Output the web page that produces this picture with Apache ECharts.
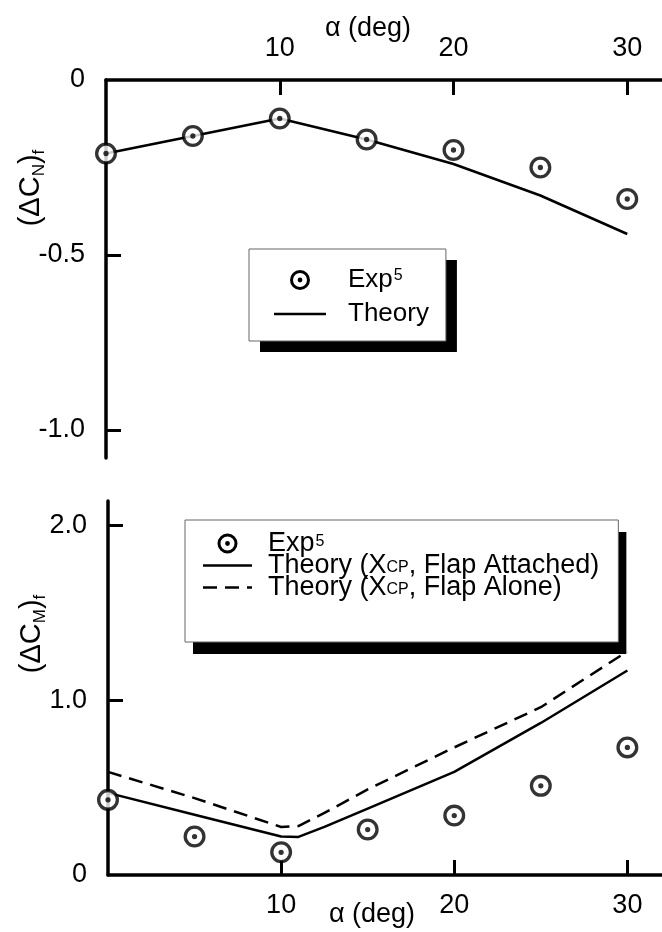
<!DOCTYPE html>
<html>
<head>
<meta charset="utf-8">
<script src="https://cdn.jsdelivr.net/npm/echarts@6/dist/echarts.min.js"></script>
<style>
html,body{margin:0;padding:0;background:#fff;}
#chart{width:662px;height:932px;}
</style>
</head>
<body>
<div id="chart"></div>
<script>
// ---- data ----
const alphaExp = [0, 5, 10, 15, 20, 25, 30];
const cnExp = [-0.21, -0.16, -0.11, -0.17, -0.20, -0.25, -0.34];
const alphaCnTheory = [0, 5, 10, 15, 20, 25, 30];
const cnTheory = [-0.21, -0.16, -0.11, -0.17, -0.24, -0.33, -0.44];
const cmExp = [0.43, 0.22, 0.13, 0.26, 0.34, 0.51, 0.73];
const alphaCmTheory = [0, 5, 10, 11, 12.5, 15, 20, 25, 30];
const cmAttached = [0.47, 0.345, 0.22, 0.218, 0.275, 0.38, 0.59, 0.87, 1.17];
const cmAlone = [0.59, 0.44, 0.275, 0.28, 0.355, 0.49, 0.73, 0.96, 1.28];
const xTickValues = [10, 20, 30];
const cnTickValues = [0, -0.5, -1.0];
const cmTickValues = [0, 1.0, 2.0];

const FONT = "'Liberation Sans', Arial, Helvetica, sans-serif";
const ringDot = 'path://M0,-10 A10,10 0 1,1 0,10 A10,10 0 1,1 0,-10 Z M0,-7.0 A7.0,7.0 0 1,0 0,7.0 A7.0,7.0 0 1,0 0,-7.0 Z M0,-2.4 A2.4,2.4 0 1,1 0,2.4 A2.4,2.4 0 1,1 0,-2.4 Z';
// legend samples: a solid bar and a dashed bar (dash 14, gap 8)
const solidIconTop = 'path://M0,0 H52 V2.5 H0 Z';
const solidIconBottom = 'path://M0,0 H49 V2.5 H0 Z';
const dashIconBottom = 'path://M0,0 h14 v2.5 h-14 Z M22,0 h14 v2.5 h-14 Z M44,0 h5 v2.5 h-5 Z';

function pairs(xs, ys) { return xs.map((x, i) => [x, ys[i]]); }

const legendNames = {
  'Exp (CN)': '{t|Exp}{sup|5}',
  'Theory (CN)': '{t|Theory}',
  'Exp (CM)': '{t|Exp}{sup|5}',
  'Theory attached': '{t|Theory (X}{sub|CP}{t|, Flap Attached)}',
  'Theory alone': '{t|Theory (X}{sub|CP}{t|, Flap Alone)}'
};

function xAxis(grid, pos, margin) {
  return {
    gridIndex: grid, type: 'value', position: pos, min: 0, max: 32,
    axisLine: { onZero: false, lineStyle: { color: '#000', width: 3.5 } },
    axisTick: { inside: true, length: 15, customValues: xTickValues, lineStyle: { color: '#000', width: 3 } },
    axisLabel: { customValues: xTickValues, margin: margin, fontSize: 27, color: '#000', fontFamily: FONT },
    splitLine: { show: false }
  };
}
function yAxis(grid, min, max, ticks) {
  return {
    gridIndex: grid, type: 'value', min: min, max: max,
    axisLine: { onZero: false, lineStyle: { color: '#000', width: 3.5 } },
    axisTick: { inside: true, length: 15, customValues: ticks.filter(v => v !== 0), lineStyle: { color: '#000', width: 3 } },
    axisLabel: { customValues: ticks, margin: 21, fontSize: 27, color: '#000', fontFamily: FONT,
      formatter: v => (v === 0 ? '0' : v.toFixed(1)) },
    splitLine: { show: false }
  };
}

function legendTextStyle(size, lh, padLeft, hidden) {
  const c = hidden ? 'rgba(0,0,0,0)' : '#000';
  return {
    fontSize: size, lineHeight: lh, color: c, fontFamily: FONT, padding: [0, 0, 0, padLeft],
    rich: {
      t: { fontSize: size, lineHeight: lh, fontFamily: FONT, color: c },
      sup: { fontSize: 16, lineHeight: 16, verticalAlign: 'top', padding: [0, 0, 6, 1], fontFamily: FONT, color: c },
      sub: { fontSize: 16, lineHeight: 12, verticalAlign: 'bottom', fontFamily: FONT, color: c }
    }
  };
}

// Each legend box is drawn twice: a back layer with the black offset shadow, and a front layer with the border and items.
function makeLegend(cfg, back) {
  const l = {
    data: cfg.data.map(n => ({ name: n, icon: cfg.icons[n] })),
    orient: 'vertical', left: cfg.left, top: cfg.top, padding: cfg.padding,
    itemWidth: cfg.itemWidth, itemHeight: 20, itemGap: cfg.itemGap,
    selectedMode: false,
    formatter: n => legendNames[n],
    itemStyle: { opacity: back ? 0 : 1 },
    textStyle: legendTextStyle(cfg.fontSize, cfg.lineHeight, cfg.textPad, back),
    z: back ? 6 : 7
  };
  if (back) {
    Object.assign(l, { backgroundColor: '#fff', borderWidth: 0, shadowColor: '#000', shadowBlur: 0,
      shadowOffsetX: cfg.shadow[0], shadowOffsetY: cfg.shadow[1] });
  } else {
    Object.assign(l, { backgroundColor: 'rgba(0,0,0,0)', borderColor: '#666', borderWidth: 1 });
  }
  return l;
}

const legendTop = {
  data: ['Exp (CN)', 'Theory (CN)'],
  icons: { 'Exp (CN)': ringDot, 'Theory (CN)': solidIconTop },
  left: 249, top: 249, padding: [18, 17, 14, 25], itemWidth: 52, itemGap: 8,
  fontSize: 26, lineHeight: 25, textPad: 17, shadow: [11, 11]
};
const legendBottom = {
  data: ['Exp (CM)', 'Theory attached', 'Theory alone'],
  icons: { 'Exp (CM)': ringDot, 'Theory attached': solidIconBottom, 'Theory alone': dashIconBottom },
  left: 185, top: 520, padding: [10, 19, 41, 18], itemWidth: 49, itemGap: -5,
  fontSize: 27, lineHeight: 20, textPad: 11, shadow: [8, 12]
};

const option = {
  animation: false,
  backgroundColor: '#fff',
  grid: [
    { left: 106, top: 80, right: 0, height: 378 },
    { left: 108, top: 501, right: 0, height: 374 }
  ],
  xAxis: [xAxis(0, 'top', 18), xAxis(1, 'bottom', 17)],
  yAxis: [yAxis(0, -1.08, 0, cnTickValues), yAxis(1, 0, 2.14, cmTickValues)],
  legend: [
    makeLegend(legendTop, true), makeLegend(legendTop, false),
    makeLegend(legendBottom, true), makeLegend(legendBottom, false)
  ],
  series: [
    { name: 'Theory (CN)', type: 'line', xAxisIndex: 0, yAxisIndex: 0, data: pairs(alphaCnTheory, cnTheory),
      symbol: 'none', clip: false, z: 2, lineStyle: { color: '#000', width: 2.5 }, itemStyle: { color: '#000' } },
    { name: '_bgCN', type: 'scatter', xAxisIndex: 0, yAxisIndex: 0, data: pairs(alphaExp, cnExp),
      symbol: 'circle', symbolSize: 18, clip: false, z: 3, silent: true, itemStyle: { color: '#fff' } },
    { name: 'Exp (CN)', type: 'scatter', xAxisIndex: 0, yAxisIndex: 0, data: pairs(alphaExp, cnExp),
      symbol: ringDot, symbolSize: 22, clip: false, z: 4, itemStyle: { color: '#000' } },

    { name: 'Theory attached', type: 'line', xAxisIndex: 1, yAxisIndex: 1, data: pairs(alphaCmTheory, cmAttached),
      symbol: 'none', clip: false, z: 2, lineStyle: { color: '#000', width: 2.5 }, itemStyle: { color: '#000' } },
    { name: 'Theory alone', type: 'line', xAxisIndex: 1, yAxisIndex: 1, data: pairs(alphaCmTheory, cmAlone),
      symbol: 'none', clip: false, z: 2, lineStyle: { color: '#000', width: 2.5, type: [14, 8] }, itemStyle: { color: '#000' } },
    { name: '_bgCM', type: 'scatter', xAxisIndex: 1, yAxisIndex: 1, data: pairs(alphaExp, cmExp),
      symbol: 'circle', symbolSize: 18, clip: false, z: 3, silent: true, itemStyle: { color: '#fff' } },
    { name: 'Exp (CM)', type: 'scatter', xAxisIndex: 1, yAxisIndex: 1, data: pairs(alphaExp, cmExp),
      symbol: ringDot, symbolSize: 22, clip: false, z: 4, itemStyle: { color: '#000' } }
  ],
  graphic: [
    { type: 'text', x: 368, y: 29, style: { text: 'α (deg)', fontSize: 27, fontFamily: FONT, fill: '#000', align: 'center', verticalAlign: 'middle' } },
    { type: 'text', x: 372, y: 915, style: { text: 'α (deg)', fontSize: 27, fontFamily: FONT, fill: '#000', align: 'center', verticalAlign: 'middle' } },
    { type: 'text', x: 31, y: 188, rotation: Math.PI / 2,
      style: { text: '{a|(ΔC}{s|N}{a|)}{s|f}', align: 'center', verticalAlign: 'middle', fill: '#000',
        rich: { a: { fontSize: 29, lineHeight: 34, fontFamily: FONT, fill: '#000' },
                s: { fontSize: 17, lineHeight: 17, verticalAlign: 'bottom', fontFamily: FONT, fill: '#000' } } } },
    { type: 'text', x: 32, y: 634, rotation: Math.PI / 2,
      style: { text: '{a|(ΔC}{s|M}{a|)}{s|f}', align: 'center', verticalAlign: 'middle', fill: '#000',
        rich: { a: { fontSize: 29, lineHeight: 34, fontFamily: FONT, fill: '#000' },
                s: { fontSize: 17, lineHeight: 17, verticalAlign: 'bottom', fontFamily: FONT, fill: '#000' } } } }
  ]
};

const chart = echarts.init(document.getElementById('chart'), null, { renderer: 'canvas' });
chart.setOption(option);
</script>
</body>
</html>
